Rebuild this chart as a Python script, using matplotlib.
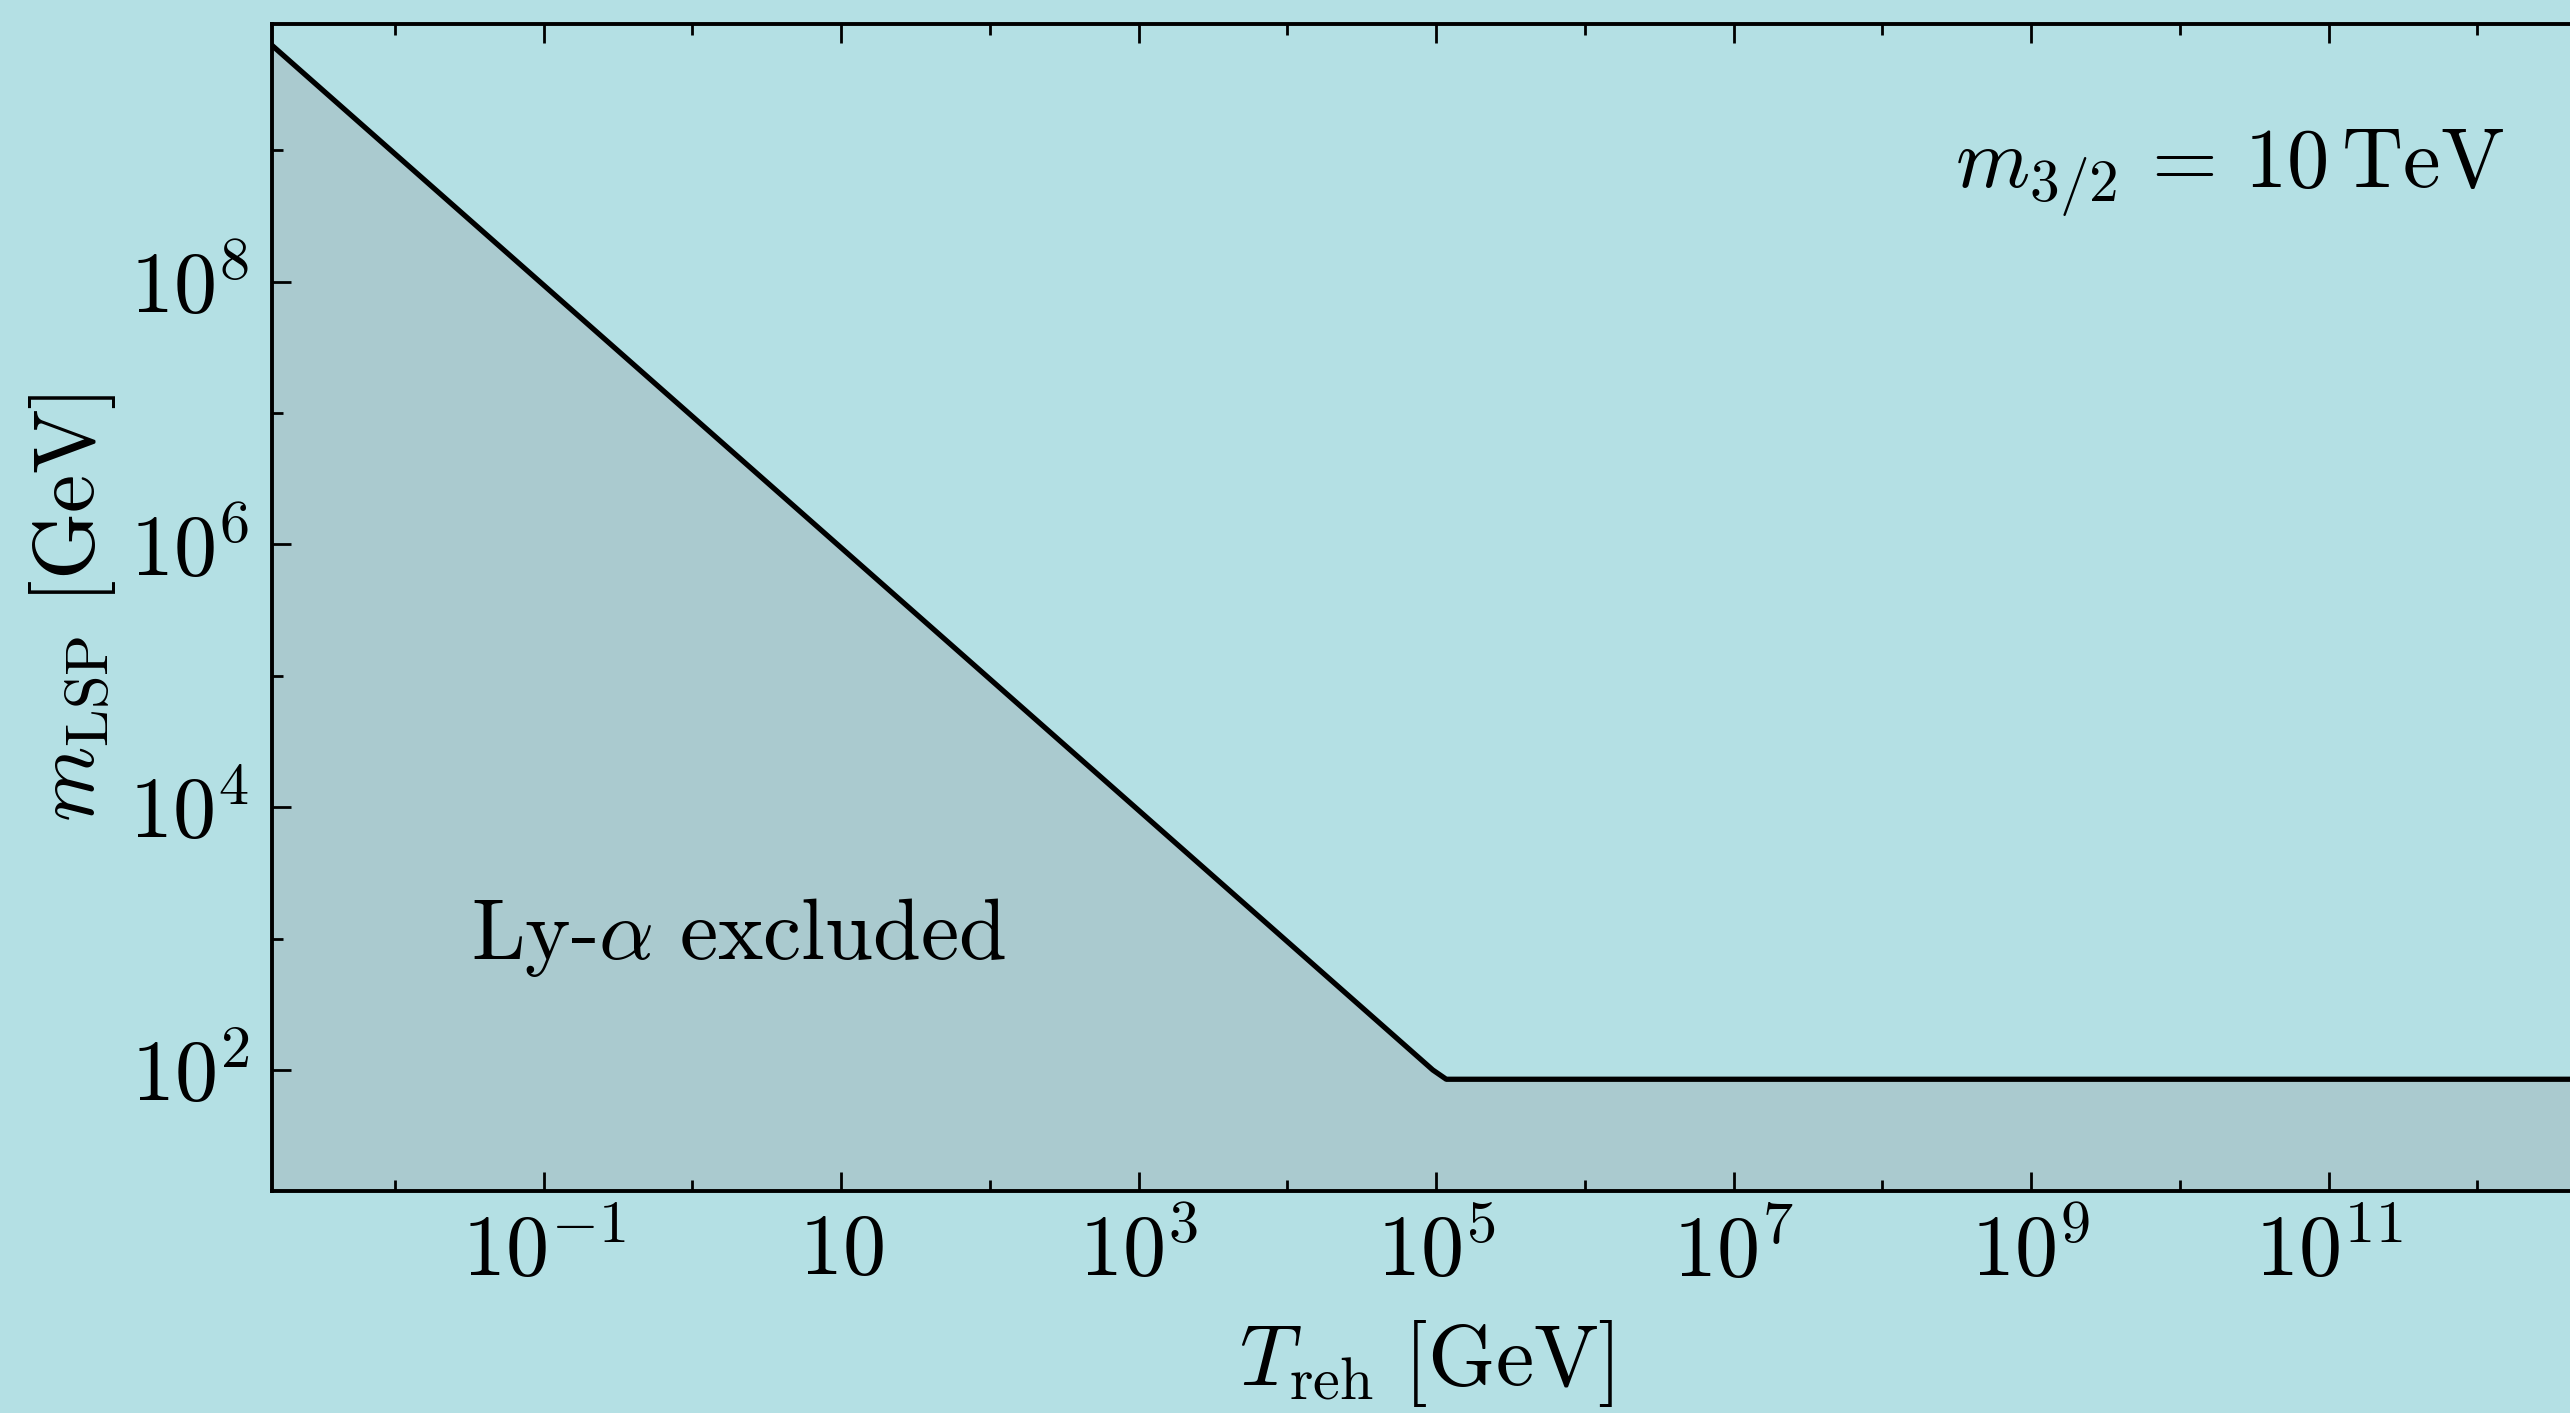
import matplotlib
matplotlib.use("Agg")
import matplotlib.pyplot as plt
from matplotlib.ticker import FixedLocator, FixedFormatter, NullFormatter

plt.rcParams["mathtext.fontset"] = "cm"
plt.rcParams["font.family"] = "serif"
plt.rcParams["font.serif"] = ["cmr10", "DejaVu Serif"]
plt.rcParams["axes.formatter.use_mathtext"] = True

# Lyman-alpha bound on the LSP mass versus reheating temperature
t_reh = [1.49e-3, 9.5e4, 1.17e5, 5e12]
m_lsp = [6.3e9, 1.0e2, 85.0, 85.0]

x_major = [1e-1, 1e1, 1e3, 1e5, 1e7, 1e9, 1e11]
x_major_labels = [r"$10^{-1}$", r"$10$", r"$10^{3}$", r"$10^{5}$",
                  r"$10^{7}$", r"$10^{9}$", r"$10^{11}$"]
x_minor = [1e-2, 1e0, 1e2, 1e4, 1e6, 1e8, 1e10, 1e12]

y_major = [1e2, 1e4, 1e6, 1e8]
y_major_labels = [r"$10^{2}$", r"$10^{4}$", r"$10^{6}$", r"$10^{8}$"]
y_minor = [1e3, 1e5, 1e7, 1e9]

bg = "#b4e0e4"
fill_col = "#aacacf"
fs = 31

fig = plt.figure(figsize=(12.85, 7.065), dpi=200, facecolor=bg)
ax = fig.add_axes([0.1058, 0.1568, 0.8986, 0.826])
ax.set_facecolor(bg)

ax.set_xscale("log")
ax.set_yscale("log")

y_floor = 11.9
ax.fill_between(t_reh, m_lsp, y_floor, color=fill_col, lw=0, zorder=1)
ax.plot(t_reh, m_lsp, color="black", lw=1.9, zorder=3)

ax.set_xlim(1.49e-3, 5e12)
ax.set_ylim(y_floor, 9.1e9)

ax.xaxis.set_major_locator(FixedLocator(x_major))
ax.xaxis.set_major_formatter(FixedFormatter(x_major_labels))
ax.xaxis.set_minor_locator(FixedLocator(x_minor))
ax.xaxis.set_minor_formatter(NullFormatter())
ax.yaxis.set_major_locator(FixedLocator(y_major))
ax.yaxis.set_major_formatter(FixedFormatter(y_major_labels))
ax.yaxis.set_minor_locator(FixedLocator(y_minor))
ax.yaxis.set_minor_formatter(NullFormatter())

ax.tick_params(which="both", direction="in", top=True, right=False,
               labelsize=fs, width=1.0, color="black")
ax.tick_params(which="major", length=6.8, pad=8)
ax.tick_params(which="minor", length=3.8)
for s in ax.spines.values():
    s.set_linewidth(1.4)

ax.set_xlabel(r"$T_{\mathrm{reh}}\ [\mathrm{GeV}]$", fontsize=fs, labelpad=8.5)
ax.set_ylabel(r"$m_{\mathrm{LSP}}\ [\mathrm{GeV}]$", fontsize=fs, labelpad=4)

ax.text(0.0327, 700, r"$\mathrm{Ly}$-$\alpha\ \mathrm{excluded}$",
        fontsize=fs, ha="left", va="baseline", zorder=4)
ax.text(3.1e8, 5.2e8, r"$m_{3/2}\,=\,10\,\mathrm{TeV}$",
        fontsize=30.5, ha="left", va="baseline", zorder=4)

fig.savefig("out.png", dpi=200, facecolor=bg)
